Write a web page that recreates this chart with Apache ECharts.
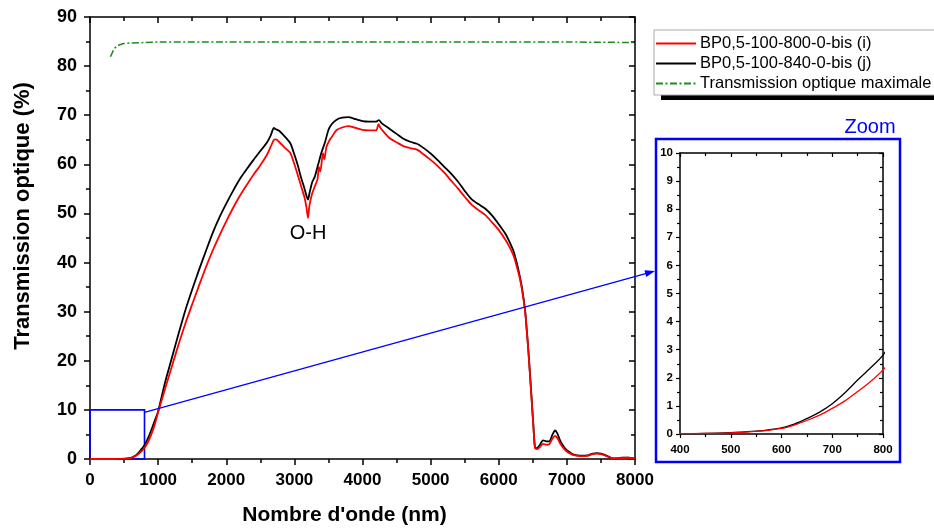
<!DOCTYPE html>
<html>
<head>
<meta charset="utf-8">
<script src="https://cdn.jsdelivr.net/npm/echarts@6/dist/echarts.min.js"></script>
<style>
html,body{margin:0;padding:0;background:#fff;}
#c{width:934px;height:531px;}
</style>
</head>
<body>
<div id="c"></div>
<script>
// ---- data (wavelength nm, transmission %) ----
var redX = [0,200,300,400,450,500,550,600,625,650,675,700,725,750,775,800,850,900,950,1000,1100,1200,1300,1400,1500,1600,1700,1800,1900,2000,2100,2200,2300,2400,2500,2600,2650,2700,2730,2780,2850,2940,3000,3050,3100,3150,3180,3200,3220,3260,3300,3340,3360,3380,3420,3440,3470,3520,3560,3620,3700,3790,3900,4000,4100,4200,4235,4260,4306,4400,4500,4600,4700,4800,4900,5000,5100,5200,5300,5400,5500,5600,5700,5800,5900,6000,6100,6165,6220,6263,6300,6337,6385,6410,6434,6460,6483,6510,6532,6560,6600,6650,6700,6740,6790,6826,6860,6900,6950,7000,7050,7100,7200,7300,7380,7440,7500,7580,7650,7700,7800,7900,8000];
var redY = [0,0,0,0.01,0.02,0.04,0.09,0.2,0.32,0.48,0.67,0.91,1.18,1.51,1.86,2.28,3.4,5.0,7.0,9.5,14.2,18.8,23.3,27.6,31.5,35.3,39.0,42.4,45.5,48.4,51.1,53.6,55.8,57.9,59.8,62.0,63.5,65.0,65.1,64.5,63.5,62.3,60.0,57.8,55.5,53.2,51.0,49.1,51.5,54.0,55.5,57.0,59.5,58.5,62.3,61.0,63.5,65.0,65.8,67.0,67.5,67.8,67.4,67.0,66.9,66.9,68.2,67.5,66.7,65.3,64.5,63.7,63.3,63.0,62.0,60.9,59.7,58.3,56.7,55.1,53.4,51.8,50.7,49.7,48.2,46.6,44.6,43.0,41.3,39.3,37.3,34.8,30.3,26.3,22.1,16.8,12.0,6.2,2.2,2.0,2.4,3.1,2.9,3.0,4.2,4.7,4.3,3.2,2.2,1.5,1.1,0.8,0.6,0.65,1.0,1.1,1.0,0.6,0.2,0.1,0.2,0.25,0.1];

var blackX = [0,200,300,400,450,500,550,600,625,650,675,700,725,750,775,800,850,900,950,1000,1100,1200,1300,1400,1500,1600,1700,1800,1900,2000,2100,2200,2300,2400,2500,2600,2650,2700,2720,2780,2850,2940,3000,3050,3100,3150,3180,3200,3220,3260,3300,3350,3400,3450,3500,3550,3620,3700,3790,3900,4000,4100,4200,4240,4280,4400,4500,4600,4700,4800,4900,5000,5100,5200,5300,5400,5500,5600,5700,5800,5900,6000,6100,6165,6220,6263,6300,6337,6385,6410,6434,6460,6483,6510,6532,6560,6600,6650,6700,6740,6790,6826,6860,6900,6950,7000,7050,7100,7200,7300,7380,7440,7500,7580,7650,7700,7800,7900,8000];
var blackY = [0,0,0,0.01,0.02,0.05,0.1,0.22,0.35,0.55,0.78,1.08,1.47,1.92,2.35,2.81,4.2,5.9,7.8,9.7,15.5,20.5,25.5,30.3,34.5,38.5,42.3,46.0,49.2,52.0,54.6,57.0,59.0,60.9,62.7,64.5,65.8,67.4,67.2,66.8,65.8,64.3,62.0,59.8,57.2,55.0,53.5,52.8,54.0,56.3,57.5,60.0,62.5,64.5,67.0,68.2,69.1,69.5,69.6,69.2,68.8,68.7,68.7,69.0,68.4,67.2,66.2,65.2,64.6,64.2,63.3,62.2,60.9,59.5,58.1,56.5,54.6,52.9,51.9,51.0,49.6,47.8,45.8,44.0,42.2,40.0,37.8,35.2,30.5,26.5,22.3,17.0,12.2,6.5,2.4,2.2,2.8,3.8,3.6,3.6,5.0,5.8,5.2,3.8,2.6,1.8,1.3,0.9,0.7,0.75,1.1,1.2,1.1,0.7,0.2,0.1,0.25,0.3,0.1];

var maxX = [300,330,360,400,450,500,600,800,1000,2000,3000,4000,5000,6000,7000,8000];
var maxY = [81.9,82.8,83.6,84.1,84.4,84.6,84.7,84.8,84.9,84.9,84.9,84.9,84.9,84.9,84.9,84.8];

var seriesNames = ['BP0,5-100-800-0-bis (i)', 'BP0,5-100-840-0-bis (j)', 'Transmission optique maximale'];
var mainXTicks = {min:0, max:8000, step:1000};
var mainYTicks = {min:0, max:90, step:10};
var insetXTicks = {min:400, max:800, step:100};
var insetYTicks = {min:0, max:10, step:1};
var zoomBox = {x0:0, x1:800, y0:0, y1:10};

function pairs(xs, ys){ return xs.map(function(x,i){ return [x, ys[i]]; }); }
function plain(v){ return String(v); }

var FONT = 'Arial, "Liberation Sans", sans-serif';
var chart = echarts.init(document.getElementById('c'), null, {renderer:'canvas'});

function axisCommon(opts){
  return Object.assign({
    type:'value',
    axisLine:{show:true, onZero:false, lineStyle:{color:'#000', width:1.5}},
    splitLine:{show:false},
    minorSplitLine:{show:false}
  }, opts);
}

var option = {
  animation:false,
  backgroundColor:'#fff',
  grid:[
    {left:90, right:299, top:17, bottom:71, containLabel:false},
    {left:680, right:51, top:153, bottom:97, containLabel:false}
  ],
  legend:{
    data:seriesNames,
    orient:'vertical',
    left:654, top:30, z:10,
    itemWidth:40, itemHeight:14, itemGap:3,
    padding:[5,30,3,1],
    backgroundColor:'#fff',
    borderColor:'#aaa', borderWidth:1,
    itemStyle:{opacity:0},
    textStyle:{fontFamily:FONT, fontSize:16.5, color:'#000', padding:[0,0,0,-1]},
    selectedMode:false
  },
  xAxis:[
    axisCommon({gridIndex:0, position:'bottom', min:mainXTicks.min, max:mainXTicks.max, interval:mainXTicks.step,
      axisTick:{show:true, inside:false, length:6, lineStyle:{width:1.5, color:'#000'}},
      minorTick:{show:true, splitNumber:2, length:4, lineStyle:{width:1.5, color:'#000'}},
      axisLabel:{show:true, margin:13, formatter:plain, fontFamily:FONT, fontWeight:'bold', fontSize:17, color:'#000'},
      name:"Nombre d'onde (nm)", nameLocation:'middle', nameGap:46,
      nameTextStyle:{fontFamily:FONT, fontWeight:'bold', fontSize:21, color:'#000', padding:[0,36,0,0]}
    }),
    axisCommon({gridIndex:0, position:'top', min:mainXTicks.min, max:mainXTicks.max, interval:mainXTicks.step,
      axisTick:{show:true, inside:true, length:6, lineStyle:{width:1.5, color:'#000'}},
      minorTick:{show:true, splitNumber:2, length:4, lineStyle:{width:1.5, color:'#000'}},
      axisLabel:{show:false}
    }),
    axisCommon({gridIndex:1, position:'bottom', min:insetXTicks.min, max:insetXTicks.max, interval:insetXTicks.step,
      axisTick:{show:true, inside:false, length:4, lineStyle:{width:1.2, color:'#000'}},
      minorTick:{show:true, splitNumber:2, length:3, lineStyle:{width:1.2, color:'#000'}},
      axisLabel:{show:true, margin:10, formatter:plain, fontFamily:FONT, fontWeight:'bold', fontSize:11.5, color:'#000'}
    }),
    axisCommon({gridIndex:1, position:'top', min:insetXTicks.min, max:insetXTicks.max, interval:insetXTicks.step,
      axisTick:{show:true, inside:true, length:4, lineStyle:{width:1.2, color:'#000'}},
      minorTick:{show:true, splitNumber:2, length:3, lineStyle:{width:1.2, color:'#000'}},
      axisLabel:{show:false}
    })
  ],
  yAxis:[
    axisCommon({gridIndex:0, position:'left', min:mainYTicks.min, max:mainYTicks.max, interval:mainYTicks.step,
      axisTick:{show:true, inside:false, length:6, lineStyle:{width:1.5, color:'#000'}},
      minorTick:{show:true, splitNumber:2, length:4, lineStyle:{width:1.5, color:'#000'}},
      axisLabel:{show:true, margin:13, formatter:plain, fontFamily:FONT, fontWeight:'bold', fontSize:18, color:'#000'},
      name:'Transmission optique (%)', nameLocation:'middle', nameGap:56,
      nameTextStyle:{fontFamily:FONT, fontWeight:'bold', fontSize:22, color:'#000', padding:[0,0,0,44]}
    }),
    axisCommon({gridIndex:0, position:'right', min:mainYTicks.min, max:mainYTicks.max, interval:mainYTicks.step,
      axisTick:{show:true, inside:true, length:6, lineStyle:{width:1.5, color:'#000'}},
      minorTick:{show:true, splitNumber:2, length:4, lineStyle:{width:1.5, color:'#000'}},
      axisLabel:{show:false}
    }),
    axisCommon({gridIndex:1, position:'left', min:insetYTicks.min, max:insetYTicks.max, interval:insetYTicks.step,
      axisTick:{show:true, inside:false, length:4, lineStyle:{width:1.2, color:'#000'}},
      minorTick:{show:true, splitNumber:2, length:3, lineStyle:{width:1.2, color:'#000'}},
      axisLabel:{show:true, margin:7, formatter:plain, fontFamily:FONT, fontWeight:'bold', fontSize:11.5, color:'#000'}
    }),
    axisCommon({gridIndex:1, position:'right', min:insetYTicks.min, max:insetYTicks.max, interval:insetYTicks.step,
      axisTick:{show:true, inside:true, length:4, lineStyle:{width:1.2, color:'#000'}},
      minorTick:{show:true, splitNumber:2, length:3, lineStyle:{width:1.2, color:'#000'}},
      axisLabel:{show:false}
    })
  ],
  series:[
    {name:seriesNames[0], type:'line', xAxisIndex:0, yAxisIndex:0, data:pairs(redX, redY), showSymbol:false, symbol:'none',
     smooth:0.25, lineStyle:{color:'#ff0000', width:1.8}, itemStyle:{color:'#ff0000'}, z:3,
     markArea:{silent:true, itemStyle:{color:'rgba(0,0,0,0)', borderColor:'#0000ff', borderWidth:1.6},
       data:[[{coord:[zoomBox.x0, zoomBox.y0]},{coord:[zoomBox.x1, zoomBox.y1]}]]}
    },
    {name:seriesNames[1], type:'line', xAxisIndex:0, yAxisIndex:0, data:pairs(blackX, blackY), showSymbol:false, symbol:'none',
     smooth:0.25, lineStyle:{color:'#000000', width:1.8}, itemStyle:{color:'#000000'}, z:2,
     markPoint:{silent:true, symbol:'circle', symbolSize:0,
       label:{show:true, formatter:'O-H', fontFamily:FONT, fontSize:20, color:'#000', position:'inside'},
       data:[{coord:[3200, 46]}]}
    },
    {name:seriesNames[2], type:'line', xAxisIndex:0, yAxisIndex:0, data:pairs(maxX, maxY), showSymbol:false, symbol:'none',
     smooth:0.3, lineStyle:{color:'#1e8c1e', width:1.5, type:[7,2.5,2,2.5]}, itemStyle:{color:'#1e8c1e'}, z:2
    },
    {name:seriesNames[0], type:'line', xAxisIndex:2, yAxisIndex:2, data:pairs(redX, redY), showSymbol:false, symbol:'none',
     smooth:0.3, clip:true, lineStyle:{color:'#ff0000', width:1.3}, z:3},
    {name:seriesNames[1], type:'line', xAxisIndex:2, yAxisIndex:2, data:pairs(blackX, blackY), showSymbol:false, symbol:'none',
     smooth:0.3, clip:true, lineStyle:{color:'#000000', width:1.3}, z:2}
  ]
};
chart.setOption(option);

// annotation: legend shadow, inset frame, "Zoom" text and the arrow from the zoom box to the inset
var p0 = chart.convertToPixel({xAxisIndex:0, yAxisIndex:0}, [zoomBox.x1, zoomBox.y1 * 0.95]);
var pi = chart.convertToPixel({xAxisIndex:2, yAxisIndex:2}, [insetXTicks.min, 5.8]);
var frame = {x:pi[0]-24, y:139, w:244, h:323};
var tip = [frame.x - 1, pi[1]];
var ang = Math.atan2(tip[1]-p0[1], tip[0]-p0[0]);
var ah = 10, aw = 3.5;
var b1 = [tip[0]-ah*Math.cos(ang)+aw*Math.sin(ang), tip[1]-ah*Math.sin(ang)-aw*Math.cos(ang)];
var b2 = [tip[0]-ah*Math.cos(ang)-aw*Math.sin(ang), tip[1]-ah*Math.sin(ang)+aw*Math.cos(ang)];
chart.setOption({
  graphic:[
    {type:'rect', z:1, left:661, top:40, shape:{width:300, height:60}, style:{fill:'#000'}},
    {type:'rect', z:10, shape:{x:frame.x, y:frame.y, width:frame.w, height:frame.h}, style:{fill:null, stroke:'#0000ff', lineWidth:2.5}},
    {type:'text', z:10, x:870, y:127, style:{text:'Zoom', font:'20px ' + FONT, fill:'#0000ff', textAlign:'center', textVerticalAlign:'middle'}},
    {type:'line', z:10, shape:{x1:p0[0], y1:p0[1], x2:tip[0]-ah*0.6*Math.cos(ang), y2:tip[1]-ah*0.6*Math.sin(ang)}, style:{stroke:'#0000ff', lineWidth:1.2}},
    {type:'polygon', z:10, shape:{points:[tip, b1, b2]}, style:{fill:'#0000ff'}}
  ]
});
</script>
</body>
</html>
